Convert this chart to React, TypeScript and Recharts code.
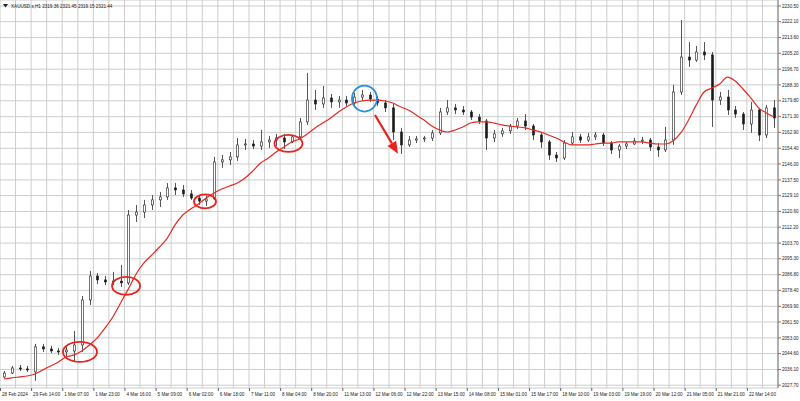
import { ComposedChart, Bar, Line, XAxis, YAxis, CartesianGrid, ReferenceDot, ReferenceLine } from 'recharts';

// XAUUSD H1, resampled to 4-hour candles
const openPrices = [
  2032.1, 2034.2, 2036.9, 2036.4, 2034.8, 2048.2, 2047.1, 2046.0, 2045.5, 2046.0,
  2049.2, 2073.3, 2086.1, 2084.0, 2082.9, 2083.4, 2082.4, 2118.7, 2120.3, 2124.1,
  2126.8, 2128.4, 2133.2, 2132.1, 2130.0, 2127.8, 2126.2, 2127.3, 2147.1, 2148.2,
  2149.8, 2156.2, 2156.7, 2155.6, 2157.8, 2158.8, 2159.9, 2157.8, 2160.5, 2168.5,
  2180.2, 2178.1, 2181.3, 2179.2, 2180.2, 2178.6, 2181.8, 2182.9, 2180.8, 2178.6,
  2176.0, 2163.1, 2156.2, 2158.8, 2159.4, 2159.9, 2162.6, 2173.8, 2176.0, 2174.9,
  2173.8, 2171.1, 2169.0, 2159.9, 2162.1, 2163.7, 2166.3, 2169.0, 2166.3, 2161.5,
  2157.8, 2150.8, 2149.2, 2157.2, 2160.5, 2158.8, 2160.5, 2161.5, 2157.2, 2153.5,
  2155.6, 2156.7, 2158.3, 2158.8, 2155.1, 2153.5, 2158.8, 2184.5, 2203.2, 2201.6,
  2205.9, 2204.3, 2180.2, 2181.8, 2174.9, 2172.7, 2167.4, 2174.9, 2161.5, 2176.0,
];
const highPrices = [
  2035.3, 2038.0, 2038.5, 2038.0, 2049.8, 2049.8, 2048.7, 2047.6, 2048.2, 2056.7,
  2075.4, 2088.8, 2087.7, 2086.1, 2088.3, 2092.0, 2121.4, 2124.1, 2126.8, 2129.4,
  2131.0, 2135.8, 2135.8, 2134.8, 2132.1, 2128.9, 2128.9, 2149.8, 2150.8, 2152.4,
  2159.9, 2159.4, 2158.8, 2164.2, 2161.0, 2162.1, 2162.1, 2161.5, 2170.6, 2194.7,
  2185.6, 2187.7, 2183.4, 2182.4, 2182.4, 2184.0, 2185.6, 2184.5, 2182.4, 2180.2,
  2178.1, 2165.3, 2161.0, 2161.0, 2161.0, 2164.2, 2176.0, 2180.2, 2178.1, 2177.0,
  2174.9, 2172.7, 2170.1, 2164.2, 2165.3, 2167.4, 2170.6, 2172.7, 2167.4, 2163.1,
  2158.8, 2152.4, 2158.8, 2163.1, 2162.1, 2162.6, 2163.1, 2162.6, 2158.3, 2156.7,
  2157.8, 2159.9, 2160.5, 2159.9, 2157.2, 2165.8, 2188.3, 2223.0, 2211.2, 2209.1,
  2211.2, 2205.9, 2184.5, 2185.6, 2177.0, 2173.8, 2179.2, 2176.0, 2177.6, 2180.2,
];
const lowPrices = [
  2031.6, 2033.7, 2035.3, 2034.8, 2030.0, 2045.5, 2044.9, 2043.9, 2043.3, 2040.1,
  2045.5, 2070.6, 2081.8, 2081.3, 2081.3, 2080.2, 2081.3, 2115.0, 2117.1, 2121.4,
  2123.0, 2126.8, 2129.4, 2128.4, 2126.8, 2124.1, 2123.5, 2126.8, 2143.9, 2145.5,
  2147.6, 2153.5, 2154.0, 2153.5, 2154.6, 2155.6, 2154.0, 2157.2, 2159.4, 2166.9,
  2174.9, 2176.0, 2176.0, 2176.0, 2177.0, 2177.6, 2179.7, 2179.2, 2177.0, 2173.8,
  2158.8, 2151.4, 2155.1, 2157.2, 2157.8, 2158.3, 2161.5, 2172.2, 2172.7, 2172.2,
  2169.5, 2167.4, 2153.5, 2157.8, 2160.5, 2162.1, 2164.7, 2164.2, 2158.8, 2154.6,
  2148.2, 2147.1, 2148.2, 2156.2, 2157.2, 2157.8, 2158.8, 2155.6, 2151.4, 2149.2,
  2154.0, 2156.2, 2156.7, 2153.0, 2149.8, 2152.4, 2156.2, 2182.9, 2197.9, 2200.6,
  2201.6, 2165.8, 2177.6, 2172.2, 2170.6, 2164.2, 2162.6, 2158.3, 2159.9, 2165.3,
];
const closePrices = [
  2034.2, 2036.9, 2036.4, 2035.9, 2048.2, 2047.1, 2046.0, 2045.5, 2046.5, 2049.2,
  2073.3, 2086.1, 2084.0, 2082.9, 2083.4, 2082.4, 2118.7, 2120.3, 2124.1, 2126.8,
  2128.4, 2133.2, 2132.1, 2130.0, 2127.8, 2126.2, 2127.3, 2147.1, 2148.2, 2149.8,
  2156.2, 2156.7, 2155.6, 2157.8, 2158.8, 2159.9, 2157.8, 2160.5, 2168.5, 2180.2,
  2178.1, 2181.3, 2179.2, 2180.2, 2178.6, 2181.8, 2182.9, 2180.8, 2178.6, 2176.0,
  2163.1, 2156.2, 2158.8, 2159.4, 2159.9, 2162.6, 2173.8, 2176.0, 2174.9, 2173.8,
  2171.1, 2169.0, 2159.9, 2162.1, 2163.7, 2166.3, 2169.0, 2166.3, 2161.5, 2157.8,
  2150.8, 2149.2, 2157.2, 2160.5, 2158.8, 2160.5, 2161.5, 2157.2, 2153.5, 2155.6,
  2156.7, 2158.3, 2158.8, 2155.1, 2153.5, 2158.8, 2184.5, 2203.2, 2201.6, 2205.9,
  2204.3, 2180.2, 2181.8, 2174.9, 2172.7, 2167.4, 2174.9, 2161.5, 2176.0, 2170.6,
];
// red moving average
const maValues = [
  2031.0, 2031.6, 2032.1, 2032.6, 2033.7, 2035.9, 2038.0, 2040.1, 2042.8, 2043.9,
  2046.0, 2049.2, 2053.0, 2058.3, 2064.2, 2071.7, 2079.2, 2087.2, 2093.1, 2097.3,
  2101.6, 2106.4, 2113.4, 2118.7, 2121.9, 2124.6, 2127.8, 2130.5, 2132.6, 2134.2,
  2135.8, 2138.5, 2142.3, 2146.5, 2149.2, 2152.4, 2155.1, 2157.8, 2159.4, 2162.1,
  2165.3, 2167.9, 2170.6, 2173.8, 2176.5, 2178.6, 2179.7, 2180.2, 2180.2, 2179.7,
  2178.6, 2176.5, 2174.9, 2172.2, 2169.5, 2166.3, 2164.2, 2163.1, 2164.2, 2165.8,
  2167.9, 2168.5, 2168.5, 2167.9, 2166.9, 2166.3, 2165.8, 2165.3, 2164.2, 2163.1,
  2161.5, 2159.9, 2157.8, 2156.2, 2156.2, 2156.2, 2156.7, 2157.2, 2157.2, 2157.8,
  2157.8, 2157.8, 2157.8, 2157.2, 2156.7, 2156.7, 2158.3, 2162.6, 2169.5, 2177.6,
  2184.5, 2186.6, 2188.8, 2192.5, 2190.4, 2186.1, 2181.3, 2176.0, 2173.3, 2171.1,
];

const xLabels = [
  '28 Feb 2024', '29 Feb 14:00', '1 Mar 07:00', '1 Mar 23:00', '4 Mar 16:00', '5 Mar 09:00',
  '6 Mar 02:00', '6 Mar 18:00', '7 Mar 11:00', '8 Mar 04:00', '8 Mar 20:00', '11 Mar 13:00',
  '12 Mar 06:00', '12 Mar 22:00', '13 Mar 15:00', '14 Mar 08:00', '15 Mar 01:00', '15 Mar 17:00',
  '18 Mar 10:00', '19 Mar 03:00', '19 Mar 19:00', '20 Mar 12:00', '21 Mar 05:00', '21 Mar 21:00',
  '22 Mar 14:00',
];
const yLabels = [
  '2230.50', '2222.10', '2213.60', '2205.20', '2196.70', '2188.30', '2179.80', '2171.30',
  '2162.90', '2154.40', '2146.00', '2137.50', '2129.10', '2120.60', '2112.20', '2103.70',
  '2095.30', '2086.80', '2078.40', '2069.90', '2061.50', '2053.00', '2044.60', '2036.10',
  '2027.70',
];

// hand-drawn annotations (x in candle units, y in price)
const ringX = [10.28, 16.2, 26.35, 37.08];
const ringY = [2045.5, 2080.8, 2126.0, 2157.0];
const blueRingX = 46.85;
const blueRingY = 2181.0;
const arrowFrom = { x: 48.2, y: 2172.2 };
const arrowTo = { x: 51.16, y: 2151.5 };

const data = openPrices.map((o, i) => ({
  i,
  open: o,
  high: highPrices[i],
  low: lowPrices[i],
  close: closePrices[i],
  ma: maValues[i],
}));

const gridTicks = Array.from({ length: 51 }, (_, k) => k * 2);
const yTicks = yLabels.map(Number);
const FONT = 'Liberation Sans, Arial, sans-serif';
const ringSize = [[17, 10], [14, 9], [11, 7], [14, 8.5]];
const PLOT_BOTTOM = 388;

function Candle(props: any) {
  const { x, y, width, height, payload } = props;
  if (x == null || !payload) return <g />;
  const top = Math.min(y, y + height);
  const h = Math.abs(height);
  const { open, close, high, low } = payload;
  const k = high - low === 0 ? 0 : h / (high - low);
  const cx = Math.round(x + width / 2) + 0.5;
  const yO = top + (high - open) * k;
  const yC = top + (high - close) * k;
  const bTop = Math.min(yO, yC);
  const bH = Math.max(1, Math.abs(yO - yC));
  const up = close >= open;
  return (
    <g>
      <line x1={cx} x2={cx} y1={top} y2={top + h} stroke="#555" strokeWidth={1} />
      <rect x={cx - 1} y={bTop} width={2} height={bH} fill={up ? '#fff' : '#1a1a1a'} stroke="#1a1a1a" strokeWidth={0.6} />
    </g>
  );
}

function XTick(props: any) {
  const { x, payload } = props;
  const v = payload.value;
  if (v % 4 !== 0 || v / 4 >= xLabels.length) return <g />;
  return (
    <g>
      <line x1={x + 0.5} x2={x + 0.5} y1={PLOT_BOTTOM} y2={PLOT_BOTTOM + 3} stroke="#666" />
      <text x={x + 2} y={PLOT_BOTTOM + 8} fontSize={4.6} fontFamily={FONT} fill="#222" textAnchor="start">
        {xLabels[v / 4]}
      </text>
    </g>
  );
}

function Arrow(props: any) {
  const { x1, y1, x2, y2 } = props;
  if (x1 == null) return <g />;
  const dx = x2 - x1;
  const dy = y2 - y1;
  const len = Math.sqrt(dx * dx + dy * dy);
  const ux = dx / len;
  const uy = dy / len;
  const head = 12;
  const bx = x2 - ux * head;
  const by = y2 - uy * head;
  const px = -uy * 5;
  const py = ux * 5;
  return (
    <g>
      <line x1={x1} y1={y1} x2={bx} y2={by} stroke="#e8231f" strokeWidth={2.2} />
      <polygon points={`${x2},${y2} ${bx + px},${by + py} ${bx - px},${by - py}`} fill="#e8231f" />
    </g>
  );
}

export default function App() {
  return (
    <div style={{ position: 'absolute', left: 0, top: 0, width: 800, height: 401, background: '#fff' }}>
      <ComposedChart width={800} height={401} data={data} margin={{ top: 0, right: 0, bottom: 0, left: 0 }} barCategoryGap={0}>
        <XAxis xAxisId="c" dataKey="i" type="category" hide />
        <XAxis
          xAxisId="n"
          dataKey="i"
          type="number"
          domain={[0, 100]}
          ticks={gridTicks}
          interval={0}
          height={401 - PLOT_BOTTOM}
          tickSize={3}
          tickMargin={0}
          tickLine={false}
          axisLine={{ stroke: '#777' }}
          tick={<XTick />}
          allowDataOverflow
        />
        <YAxis
          orientation="right"
          width={22}
          domain={[2026.2, 2233.7]}
          ticks={yTicks}
          interval={0}
          allowDataOverflow
          tickSize={3}
          tickMargin={1}
          tickLine={{ stroke: '#777' }}
          axisLine={{ stroke: '#777' }}
          tick={{ fontSize: 4.6, fill: '#222', fontFamily: FONT }}
          tickFormatter={(v: number) => v.toFixed(2)}
        />
        <CartesianGrid xAxisId="n" stroke="#cdcdcd" strokeWidth={1} />
        <Bar xAxisId="c" dataKey={(d: any) => [d.low, d.high]} shape={<Candle />} isAnimationActive={false} />
        <Line xAxisId="c" type="monotone" dataKey="ma" stroke="#e42a24" strokeWidth={1.2} dot={false} isAnimationActive={false} />
        {ringX.map((rx, k) => (
          <ReferenceDot
            key={k}
            xAxisId="n"
            x={rx}
            y={ringY[k]}
            r={1}
            shape={(p: any) => (
              <ellipse cx={p.cx} cy={p.cy} rx={ringSize[k][0]} ry={ringSize[k][1]} fill="none" stroke="#e8231f" strokeWidth={1.8} />
            )}
          />
        ))}
        <ReferenceDot
          xAxisId="n"
          x={blueRingX}
          y={blueRingY}
          r={1}
          shape={(p: any) => <ellipse cx={p.cx} cy={p.cy} rx={12.5} ry={13} fill="none" stroke="#2a8fd6" strokeWidth={1.8} />}
        />
        <ReferenceLine xAxisId="n" segment={[arrowFrom, arrowTo]} shape={<Arrow />} />
      </ComposedChart>
      <svg width={200} height={12} style={{ position: 'absolute', left: 0, top: 0 }}>
        <polygon points="3,4 8,4 5.5,7.5" fill="#222" />
        <text x={11} y={8} fontSize={4.6} fontFamily={FONT} fill="#222">
          XAUUSD.s,H1  2319.36 2321.45 2319.15 2321.44
        </text>
      </svg>
    </div>
  );
}
